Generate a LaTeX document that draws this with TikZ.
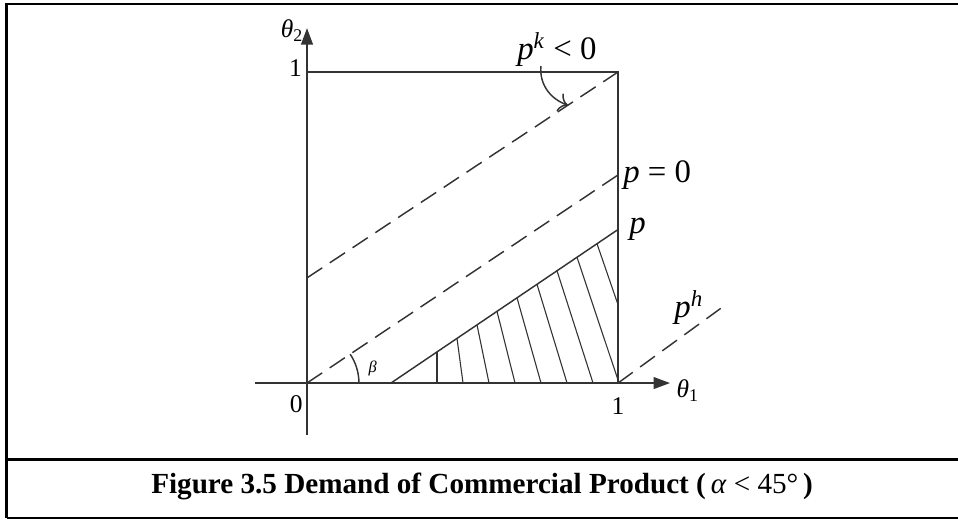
\documentclass[tikz,border=0pt]{standalone}
\usepackage{fontspec}
\setmainfont{Liberation Serif}
\usetikzlibrary{arrows.meta}
\begin{document}
\begin{tikzpicture}[x=6cm,y=6cm,
        linha/.style={line width=0.8pt,black!80},
        tracejada/.style={linha,dash pattern=on 10pt off 5pt},
        rotulo/.style={inner sep=0pt,font=\fontsize{14}{16}\selectfont},
        preco/.style={inner sep=0pt,font=\fontsize{18}{20}\selectfont}]
        \useasboundingbox (-0.987,-0.4405) rectangle (2.093,1.2315);
        % Moldura
        \draw[line width=1.6pt] (2.093,1.2186) -- (-0.965,1.2186) -- (-0.965,-0.4325);
        \draw[line width=1.6pt] (-0.965,-0.2444) -- (2.093,-0.2444);
        \draw[line width=1.1pt] (-0.965,-0.4325) -- (2.093,-0.4325);
        % Eixos
        \coordinate (O) at (0,0);
        \coordinate (X) at (1,0);
        \coordinate (Y) at (0,1);
        \coordinate (C) at (1,1);
        \draw[linha,-{Triangle[length=9pt,width=6.5pt]}] (-0.167,0) -- (1.167,0);
        \draw[linha,-{Triangle[length=9pt,width=6.5pt]}] (0,-0.167) -- (0,1.141);
        \node[rotulo,anchor=base west] (teta1) at (1.187,-0.048) {\textit{θ}\textsubscript{1}};
        \node[rotulo,anchor=base west] (teta2) at (-0.085,1.112) {\textit{θ}\textsubscript{2}};
        \node[rotulo,anchor=base east] (zero) at (-0.013,-0.096) {0};
        \node[rotulo,anchor=base] (umx) at (1,-0.1) {1};
        \node[rotulo,anchor=base east] (umy) at (-0.015,0.985) {1};
        % Quadrado
        \draw[linha] (Y) -- (C) -- (X);
        % Retas de preco
        \draw[tracejada] (0,0.338) -- (C);
        \draw[tracejada] (O) -- (1,0.669);
        \draw[tracejada] (X) -- (1.33,0.24);
        \draw[linha] (0.27,0) -- (1,0.4936);
        \node[preco,anchor=base west] (pk) at (0.675,1.04) {\textit{p}\textsuperscript{\textit{k}} < 0};
        \node[preco,anchor=base west] (pzero) at (1.016,0.646) {\textit{p} = 0};
        \node[preco,anchor=base west] (p) at (1.035,0.482) {\textit{p}};
        \node[preco,anchor=base west] (ph) at (1.18,0.21) {\textit{p}\textsuperscript{\textit{h}}};
        % Hachura
        \begin{scope}
        \clip (O) rectangle (C);
        \foreach \k in {0,...,8}
        \draw[line width=0.6pt,black!80] ({0.418+0.0643*\k},{0.676*(0.418+0.0643*\k-0.27)}) -- ({0.418+0.0836*\k},0);
        \end{scope}
        % Angulo beta
        \draw[linha] (0.167,0) arc[start angle=0,end angle=33.8,radius=0.167];
        \node[inner sep=0pt,anchor=base west,font=\fontsize{9}{10}\selectfont] (beta) at (0.197,0.035) {\textit{β}};
        % Seta p^k
        \coordinate (pkini) at (0.752,1.019);
        \coordinate (pkfim) at (0.839,0.893);
        \draw[linha,-{To[length=5pt]}] (pkini) to[out=-95,in=160] (pkfim);
        % Legenda
        \node[anchor=base,inner sep=0pt,font=\fontsize{16}{18}\selectfont] (legenda) at (0.563,-0.354)
        {\textbf{Figure 3.5 Demand of Commercial Product (}\,\textit{α} < 45°\,\textbf{)}};
      \end{tikzpicture}
\end{document}
